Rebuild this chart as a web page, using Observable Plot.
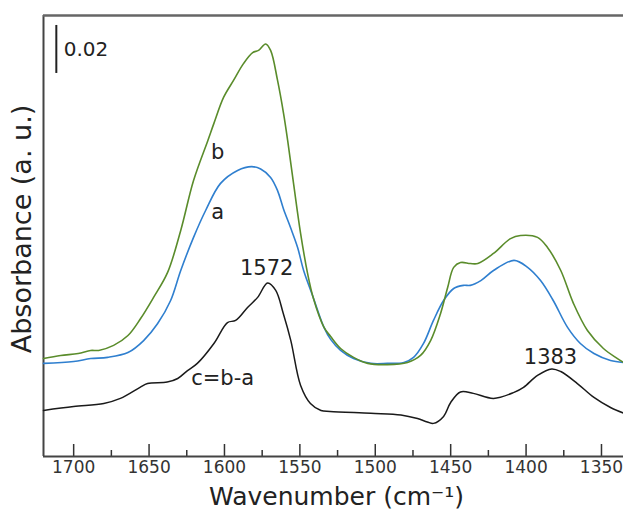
<!DOCTYPE html>
<html><head><meta charset="utf-8">
<script src="https://cdn.jsdelivr.net/npm/d3@7"></script>
<script src="https://cdn.jsdelivr.net/npm/@observablehq/plot@0.6"></script>
<style>body{margin:0;background:#fff}</style>
</head><body><div id="chart"></div>
<script>
// wavenumber (cm-1), absorbance
const curveA = [[1720,0.0388],[1700,0.0396],[1688.7,0.0408],[1677.5,0.0413],[1664,0.0433],[1653.6,0.0483],[1644.3,0.0554],[1635.7,0.0650],[1629,0.0775],[1620.5,0.0913],[1612.5,0.1025],[1602.6,0.1138],[1591.3,0.1192],[1582,0.1208],[1576,0.1198],[1569.4,0.1163],[1564.8,0.1108],[1560.8,0.1030],[1556.2,0.0954],[1551.5,0.0871],[1547.5,0.0775],[1541.6,0.0671],[1534,0.0538],[1529.6,0.0488],[1523,0.0442],[1514.4,0.0408],[1503,0.0388],[1492,0.0388],[1481,0.0392],[1474.6,0.0413],[1468,0.0471],[1461.4,0.0567],[1454.7,0.0650],[1448,0.0700],[1441.5,0.0713],[1437,0.0713],[1430,0.0733],[1421.6,0.0775],[1408,0.0817],[1399,0.0788],[1390.4,0.0733],[1382,0.0650],[1372.5,0.0538],[1364,0.0471],[1355,0.0429],[1344,0.0400],[1335.4,0.0392]];
const curveB = [[1720,0.0408],[1708.6,0.0421],[1697,0.0429],[1688.7,0.0442],[1683.4,0.0442],[1673.5,0.0463],[1664,0.0504],[1655.6,0.0575],[1647,0.0663],[1637.7,0.0767],[1629,0.0942],[1620.5,0.1150],[1611,0.1317],[1607,0.1388],[1600.6,0.1496],[1594,0.1567],[1587.3,0.1638],[1581.3,0.1683],[1577.4,0.1692],[1572.7,0.1719],[1569.4,0.1692],[1564.8,0.1567],[1560.8,0.1429],[1558.1,0.1317],[1554.2,0.1138],[1549.5,0.0929],[1544.9,0.0763],[1541,0.0658],[1534,0.0538],[1529.6,0.0500],[1523,0.0450],[1514.4,0.0413],[1505,0.0388],[1492,0.0383],[1478.6,0.0392],[1470,0.0421],[1463.3,0.0483],[1456.7,0.0596],[1452,0.0704],[1448,0.0788],[1443.5,0.0808],[1437,0.0804],[1432,0.0804],[1421.6,0.0846],[1410.3,0.0908],[1403.7,0.0921],[1392.4,0.0913],[1385.8,0.0871],[1377,0.0775],[1368.6,0.0638],[1359.3,0.0525],[1348.7,0.0450],[1339.4,0.0408],[1335.4,0.0392]];
const curveC = [[1720,0.0192],[1700,0.0208],[1680,0.0221],[1669,0.0242],[1656,0.0288],[1651,0.0304],[1638,0.0310],[1631,0.0325],[1624.5,0.0358],[1618,0.0388],[1607,0.0471],[1598,0.0558],[1592.6,0.0567],[1584.7,0.0621],[1578,0.0663],[1571.4,0.0723],[1566,0.0692],[1561,0.0596],[1556,0.0483],[1549.5,0.0296],[1543,0.0221],[1536,0.0192],[1530,0.0188],[1503,0.0180],[1483,0.0173],[1472,0.0158],[1465.5,0.0144],[1461.4,0.0138],[1454.7,0.0167],[1450,0.0225],[1443.5,0.0269],[1435,0.0263],[1421.6,0.0242],[1408,0.0267],[1401.7,0.0288],[1392.4,0.0338],[1383,0.0365],[1377,0.0354],[1366,0.0304],[1355,0.0246],[1344,0.0204],[1335.4,0.0181]];
const majorTicks = [1700,1650,1600,1550,1500,1450,1400,1350];
const minorTicks = [1675,1625,1575,1525,1475,1425,1375];
const curveLabels = [{t:"b", x:1604.5, y:0.1267},{t:"a", x:1604.5, y:0.1017},{t:"c=b-a", x:1601.2, y:0.0325}];
const peakLabels = [{t:"1572", x:1572, y:0.0783},{t:"1383", x:1383.8, y:0.0413}];
const scaleBar = {x:1711.5, top:0.1796, size:0.02, label:"0.02", labelX:1706.6};
const xDomain = [1720, 1335.4];
const yDomain = [0, 0.18375];

const font = "'DejaVu Sans', sans-serif";
const toObj = a => a.map(([x,y]) => ({x,y}));
const W = 623, H = 510, mL = 43, mR = 0, mT = 15, mB = 54;
const frameH = H - mT - mB;

const chart = Plot.plot({
  width: W, height: H,
  marginLeft: mL, marginRight: mR, marginTop: mT, marginBottom: mB,
  style: {fontFamily: font, background: "#fff", overflow: "visible"},
  x: {domain: xDomain},
  y: {domain: yDomain, axis: null},
  marks: [
    Plot.axisX({ticks: majorTicks, tickSize: 0, tickPadding: 4, fontSize: 17, color: "#333", label: null, tickFormat: d => String(d)}),
    Plot.ruleX(majorTicks, {x: d => d, insetTop: frameH - 12, stroke: "#333", strokeWidth: 1.5}),
    Plot.ruleX(minorTicks, {x: d => d, insetTop: frameH - 6, stroke: "#333", strokeWidth: 1.5}),
    Plot.ruleX([xDomain[0]], {stroke: "#444", strokeWidth: 2}),
    Plot.ruleY([yDomain[0]], {stroke: "#444", strokeWidth: 2}),
    Plot.ruleY([yDomain[1]], {stroke: "#666", strokeWidth: 2.5}),
    Plot.line(toObj(curveC), {x: "x", y: "y", stroke: "#1a1a1a", strokeWidth: 1.5, curve: "catmull-rom"}),
    Plot.line(toObj(curveA), {x: "x", y: "y", stroke: "#2f7fcf", strokeWidth: 1.6, curve: "catmull-rom"}),
    Plot.line(toObj(curveB), {x: "x", y: "y", stroke: "#5a8c2b", strokeWidth: 1.6, curve: "catmull-rom"}),
    Plot.text(curveLabels, {x: "x", y: "y", text: "t", fontSize: 21, fill: "#222", textAnchor: "middle"}),
    Plot.text(peakLabels, {x: "x", y: "y", text: "t", fontSize: 21, fill: "#222", textAnchor: "middle"}),
    Plot.ruleX([scaleBar], {x: "x", y1: d => d.top - d.size, y2: "top", stroke: "#222", strokeWidth: 2}),
    Plot.text([scaleBar], {x: "labelX", y: d => d.top - d.size/2, text: "label", fontSize: 20, fill: "#222", textAnchor: "start"}),
    Plot.text(["Wavenumber (cm⁻¹)"], {frameAnchor: "bottom", dx: 3, dy: 40, fontSize: 25, fill: "#222", textAnchor: "middle", lineAnchor: "middle"}),
    Plot.text(["Absorbance (a. u.)"], {frameAnchor: "left", rotate: -90, dx: -21, dy: -7, fontSize: 27, fill: "#222", textAnchor: "middle", lineAnchor: "middle"})
  ]
});
document.getElementById("chart").append(chart);
</script>
</body></html>
